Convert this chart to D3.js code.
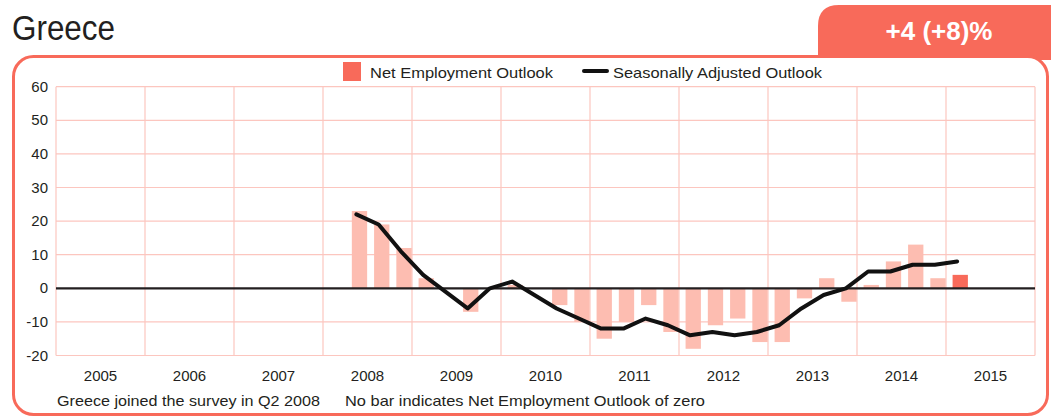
<!DOCTYPE html>
<html lang="en">
<head>
  <meta charset="UTF-8" />
  <title>Greece Net Employment Outlook</title>
  <script src="https://cdnjs.cloudflare.com/ajax/libs/d3/7.8.4/d3.min.js"></script>
  <style>
    body {
      margin: 0;
      padding: 0;
      background: #fff;
      overflow: hidden;
      font-family: "Liberation Sans", Arial, sans-serif;
    }
    svg { display: block; }
    .grid line { stroke: #fcc6bf; stroke-width: 1.2px; }
    .lbl { fill: #231f20; font-size: 15px; }
  </style>
</head>
<body>
  <svg width="1051" height="417"></svg>
  <script>
    // quarters from Q2 2008 to Q1 2015
    const quarters = ["Q2 2008","Q3 2008","Q4 2008",
      "Q1 2009","Q2 2009","Q3 2009","Q4 2009",
      "Q1 2010","Q2 2010","Q3 2010","Q4 2010",
      "Q1 2011","Q2 2011","Q3 2011","Q4 2011",
      "Q1 2012","Q2 2012","Q3 2012","Q4 2012",
      "Q1 2013","Q2 2013","Q3 2013","Q4 2013",
      "Q1 2014","Q2 2014","Q3 2014","Q4 2014",
      "Q1 2015"];
    const netOutlook = [23, 19, 12,
      3, 0, -7, 0,
      1, 0, -5, -10,
      -15, -10, -5, -13,
      -18, -11, -9, -16,
      -16, -3, 3, -4,
      1, 8, 13, 3,
      4];
    const seasonal = [22, 19, 11,
      4, -1, -6, 0,
      2, -2, -6, -9,
      -12, -12, -9, -11,
      -14, -13, -14, -13,
      -11, -6, -2, 0,
      5, 5, 7, 7,
      8];
    const years = [2005, 2006, 2007, 2008, 2009, 2010, 2011, 2012, 2013, 2014, 2015];
    const yTicks = [-20, -10, 0, 10, 20, 30, 40, 50, 60];

    const coral = "#f86a5a";
    const barLight = "#fdbdb1";

    const svg = d3.select("svg");

    // quarter label -> fractional year
    function qTime(q) {
      const p = q.split(" ");
      return +p[1] + (+p[0].slice(1) - 1) / 4;
    }

    const x = d3.scaleLinear().domain([2005, 2016]).range([56, 1035]);
    const y = d3.scaleLinear().domain([-20, 60]).range([355.5, 86.7]);

    // badge top right
    svg.append("path")
      .attr("d", "M818,60 L818,26 Q818,5 839,5 L1051,5 L1051,60 Z")
      .attr("fill", coral);
    svg.append("text")
      .attr("x", 939).attr("y", 40)
      .attr("text-anchor", "middle")
      .attr("fill", "#fff")
      .attr("font-weight", "bold")
      .attr("font-size", 26)
      .text("+4 (+8)%");

    // frame
    svg.append("rect")
      .attr("x", 13.5).attr("y", 56.5)
      .attr("width", 1034).attr("height", 358)
      .attr("rx", 20)
      .attr("fill", "#fff")
      .attr("stroke", coral)
      .attr("stroke-width", 3);

    // title
    svg.append("text")
      .attr("x", 12).attr("y", 40)
      .attr("fill", "#231f20")
      .attr("font-size", 35)
      .attr("textLength", 103)
      .attr("lengthAdjust", "spacingAndGlyphs")
      .text("Greece");

    // grid
    const grid = svg.append("g").attr("class", "grid");
    grid.selectAll(".h").data(yTicks.filter(d => d !== 0)).enter()
      .append("line")
      .attr("x1", x(2005)).attr("x2", x(2016))
      .attr("y1", d => y(d)).attr("y2", d => y(d));
    grid.selectAll(".v").data(years.concat([2016])).enter()
      .append("line")
      .attr("x1", d => x(d)).attr("x2", d => x(d))
      .attr("y1", y(60)).attr("y2", y(-20));

    // y labels
    svg.append("g").selectAll("text").data(yTicks).enter()
      .append("text")
      .attr("class", "lbl")
      .attr("x", 48)
      .attr("y", d => y(d) + 5)
      .attr("text-anchor", "end")
      .text(d => d);

    // year labels
    svg.append("g").selectAll("text").data(years).enter()
      .append("text")
      .attr("class", "lbl")
      .attr("x", d => x(d + 0.5))
      .attr("y", 381)
      .attr("text-anchor", "middle")
      .text(d => d);

    // bars
    svg.append("g").selectAll("rect").data(quarters).enter()
      .append("rect")
      .attr("x", q => x(qTime(q) + 0.074))
      .attr("width", q => x(qTime(q) + 0.246) - x(qTime(q) + 0.074))
      .attr("y", (q, i) => y(Math.max(0, netOutlook[i])))
      .attr("height", (q, i) => Math.abs(y(netOutlook[i]) - y(0)))
      .attr("fill", (q, i) => i === quarters.length - 1 ? coral : barLight);

    // zero line
    svg.append("line")
      .attr("x1", x(2005)).attr("x2", x(2016))
      .attr("y1", y(0)).attr("y2", y(0))
      .attr("stroke", "#231f20")
      .attr("stroke-width", 2.2);

    // seasonally adjusted line
    const line = d3.line()
      .x(d => x(qTime(d.q) + 0.125))
      .y(d => y(d.v));
    svg.append("path")
      .datum(quarters.map((q, i) => ({ q: q, v: seasonal[i] })))
      .attr("d", line)
      .attr("fill", "none")
      .attr("stroke", "#111")
      .attr("stroke-width", 4)
      .attr("stroke-linejoin", "round")
      .attr("stroke-linecap", "round");

    // legend
    const lg = svg.append("g");
    lg.append("rect")
      .attr("x", 343).attr("y", 62)
      .attr("width", 18).attr("height", 19)
      .attr("fill", coral);
    lg.append("text")
      .attr("class", "lbl")
      .attr("x", 370).attr("y", 78)
      .attr("font-size", 16)
      .attr("textLength", 183)
      .attr("lengthAdjust", "spacingAndGlyphs")
      .text("Net Employment Outlook");
    lg.append("line")
      .attr("x1", 584).attr("x2", 607)
      .attr("y1", 71).attr("y2", 71)
      .attr("stroke", "#111")
      .attr("stroke-width", 4)
      .attr("stroke-linecap", "round");
    lg.append("text")
      .attr("class", "lbl")
      .attr("x", 613).attr("y", 78)
      .attr("font-size", 16)
      .attr("textLength", 209)
      .attr("lengthAdjust", "spacingAndGlyphs")
      .text("Seasonally Adjusted Outlook");

    // footnotes
    svg.append("text")
      .attr("class", "lbl")
      .attr("x", 57).attr("y", 406)
      .attr("textLength", 263)
      .attr("lengthAdjust", "spacingAndGlyphs")
      .text("Greece joined the survey in Q2 2008");
    svg.append("text")
      .attr("class", "lbl")
      .attr("x", 345).attr("y", 406)
      .attr("textLength", 360)
      .attr("lengthAdjust", "spacingAndGlyphs")
      .text("No bar indicates Net Employment Outlook of zero");
  </script>
</body>
</html>
